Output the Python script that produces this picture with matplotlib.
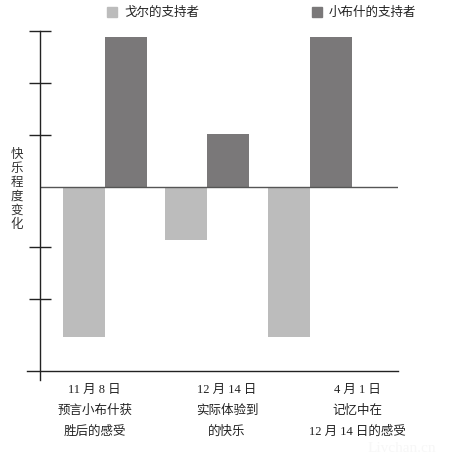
import numpy as np
import matplotlib
matplotlib.use('Agg')
import matplotlib.pyplot as plt

plt.rcParams['font.family'] = ['Liberation Serif', 'Noto Sans CJK SC', 'DejaVu Sans']

# data
groups = [['11 月 8 日', '预言小布什获', '胜后的感受'],
          ['12 月 14 日', '实际体验到', '的快乐'],
          ['4 月 1 日', '记忆中在', '12 月 14 日的感受']]
gore = [-2.88, -1.02, -2.88]
bush = [2.88, 1.02, 2.88]
series_names = ['戈尔的支持者', '小布什的支持者']
yticks = [3, 2, 1, -1.15, -2.15]

gore_color = '#bcbcbc'
bush_color = '#7a7879'

fig = plt.figure(figsize=(4.5, 4.64), dpi=100)
# axes: x 40..398 px, y 32..381 px
ax = fig.add_axes([40 / 450, 1 - 381 / 464, 358 / 450, 349 / 464])

x = np.arange(len(groups))
w = 0.41
ax.bar(x - w / 2, gore, w, color=gore_color)
ax.bar(x + w / 2, bush, w, color=bush_color)

ax.set_xlim(-0.634, 2.86)
ax.set_ylim(-3.71, 3.0)

# zero line and bottom baseline
ax.axhline(0, color='#555555', lw=1.0)
base = -3.54
ax.axhline(base, xmin=-13 / 358, xmax=1, color='#222222', lw=1.0, clip_on=False)

for s in ['top', 'right', 'bottom']:
    ax.spines[s].set_visible(False)
ax.spines['left'].set_color('#222222')
ax.spines['left'].set_linewidth(1.0)

ax.set_yticks(yticks)
ax.set_yticklabels([])
ax.tick_params(axis='y', direction='inout', length=16, width=1.0, color='#222222')
for t in ax.yaxis.get_major_ticks()[3:]:
    t.tick1line.set_color('#777777')
ax.set_xticks([])

# category labels under the baseline
label_x = [-0.1, 1.19, 2.46]
for lx, lines in zip(label_x, groups):
    for i, line in enumerate(lines):
        ax.annotate(line, xy=(lx, base), xytext=(0, -12.5 - i * 15.3),
                    textcoords='offset points', ha='center', va='center',
                    fontsize=9, color='#222222', annotation_clip=False)

# y label, stacked characters
fig.text(17 / 450, 1 - 190 / 464, '\n'.join('快乐程度变化'), ha='center', va='center',
         fontsize=9, linespacing=1.22, color='#333333')

# legend
for (lx, tx), name, c in zip([(107, 124), (312, 329)], series_names, [gore_color, bush_color]):
    fig.patches.append(plt.Rectangle((lx / 450, 1 - 18 / 464), 10 / 450, 10 / 464,
                                     transform=fig.transFigure, color=c))
    fig.text(tx / 450, 1 - 13 / 464, name, ha='left', va='center', fontsize=9, color='#222222')

fig.text(0.97, 0.02, 'Livchan.cn', ha='right', va='bottom', fontsize=11, color='#f7f7f7')

fig.savefig('out.png', dpi=100)
